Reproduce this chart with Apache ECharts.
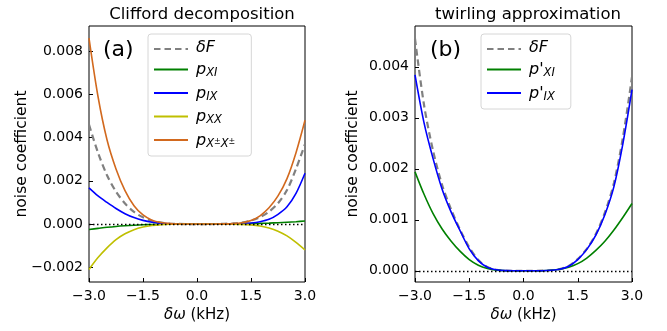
<!DOCTYPE html>
<html>
<head>
<meta charset="utf-8">
<script src="https://cdn.jsdelivr.net/npm/echarts@6/dist/echarts.min.js"></script>
<style>
  html, body { margin: 0; padding: 0; background: #fff; }
  #chart { width: 667px; height: 331px; }
</style>
</head>
<body>
<div id="chart"></div>
<script>
// detuning in kHz
const dw = [-3, -2.75, -2.5, -2.25, -2, -1.75, -1.5, -1.25, -1, -0.75, -0.5, -0.25, 0,
  0.25, 0.5, 0.75, 1, 1.25, 1.5, 1.75, 2, 2.25, 2.5, 2.75, 3]

// (a) Clifford decomposition, values in units of 1e-3
const dF_a = [4.6, 3.3, 2.26, 1.5, 0.95, 0.56, 0.31, 0.15, 0.063, 0.02, 0.004, 0, 0,
  0, 0.002, 0.01, 0.03, 0.07, 0.16, 0.32, 0.57, 0.96, 1.57, 2.55, 3.7]
const pXI = [-0.25, -0.2, -0.15, -0.11, -0.08, -0.055, -0.035, -0.02, -0.01, -0.004, -0.001, 0, 0,
  0, 0.001, 0.002, 0.005, 0.011, 0.02, 0.03, 0.045, 0.063, 0.085, 0.11, 0.14]
const pIX = [1.67, 1.3, 1.0, 0.72, 0.48, 0.3, 0.17, 0.08, 0.03, 0.008, 0.001, 0, 0,
  0, 0.001, 0.003, 0.007, 0.02, 0.05, 0.11, 0.22, 0.45, 0.8, 1.42, 2.35]
const pXX = [-2.1, -1.55, -1.1, -0.72, -0.45, -0.26, -0.14, -0.065, -0.025, -0.008, -0.002, 0, 0,
  0, 0, -0.001, -0.005, -0.015, -0.04, -0.09, -0.18, -0.33, -0.55, -0.85, -1.2]
const pXpm = [8.6, 5.9, 3.9, 2.55, 1.55, 0.85, 0.42, 0.18, 0.068, 0.019, 0.003, 0, 0,
  0, 0.001, 0.006, 0.02, 0.06, 0.16, 0.38, 0.75, 1.3, 2.1, 3.3, 4.8]

// (b) twirling approximation, values in units of 1e-3
const dF_b = [4.55, 3.25, 2.35, 1.68, 1.2, 0.8, 0.46, 0.21, 0.075, 0.02, 0.004, 0, 0,
  0, 0.002, 0.01, 0.032, 0.095, 0.23, 0.43, 0.72, 1.14, 1.72, 2.62, 3.8]
const pXI_tw = [1.94, 1.5, 1.12, 0.82, 0.58, 0.38, 0.22, 0.11, 0.045, 0.012, 0.002, 0, 0,
  0, 0.002, 0.01, 0.03, 0.07, 0.14, 0.25, 0.4, 0.58, 0.8, 1.05, 1.32]
const pIX_tw = [3.84, 2.9, 2.2, 1.6, 1.15, 0.78, 0.43, 0.2, 0.07, 0.02, 0.003, 0, 0,
  0, 0.002, 0.01, 0.03, 0.09, 0.22, 0.42, 0.7, 1.1, 1.65, 2.5, 3.55]

const yTicksA = [-2, 0, 2, 4, 6, 8]
const yTicksB = [0, 1, 2, 3, 4]

const FONT = 'DejaVu Sans'
const pairs = (ys) => dw.map((x, i) => [x, ys[i]])

const legendNames = {
  'dF_a': '{it|δF}',
  'pXI': '{it|p}{sub|XI}',
  'pIX': '{it|p}{sub|IX}',
  'pXX': '{it|p}{sub|XX}',
  'pXpm': '{it|p}{sub|X}{sup|±}{sub|X}{sup|±}',
  'dF_b': '{it|δF}',
  'pXI_tw': "{it|p'}{sub|XI}",
  'pIX_tw': "{it|p'}{sub|IX}",
}

const legendRich = {
  it: { fontFamily: FONT, fontStyle: 'italic', fontSize: 16, color: '#000', padding: [0, 0, 0, 3] },
  sub: { fontFamily: FONT, fontStyle: 'italic', fontSize: 11.5, color: '#000', padding: [7, 0, 0, 0] },
  sup: { fontFamily: FONT, fontSize: 8, color: '#000', padding: [3, 0, 0, 0] },
}

const legendBase = {
  orient: 'vertical',
  top: 34,
  itemWidth: 34,
  itemHeight: 14,
  itemGap: 6,
  padding: [6, 16, 6, 5],
  backgroundColor: '#fff',
  borderColor: '#d6d6d6',
  borderWidth: 1,
  borderRadius: 3,
  itemStyle: { opacity: 0 },
  formatter: (name) => legendNames[name],
  textStyle: { rich: legendRich, height: 18 },
}

const xAxisBase = (gridIndex) => ({
  gridIndex,
  type: 'value',
  min: -3,
  max: 3,
  interval: 1.5,
  name: '{it|δω} (kHz)',
  nameLocation: 'middle',
  nameGap: 23,
  nameTextStyle: {
    fontFamily: FONT, fontSize: 15, color: '#000',
    rich: { it: { fontFamily: FONT, fontStyle: 'italic', fontSize: 15, color: '#000' } },
  },
  axisLine: { show: false, onZero: false },
  axisTick: { show: true, inside: true, length: 4, lineStyle: { color: '#000' } },
  axisLabel: {
    fontFamily: FONT, fontSize: 14, color: '#000', margin: 7,
    formatter: (v) => v.toFixed(1).replace('-', '−'),
  },
  splitLine: { show: false },
})

const yAxisBase = (gridIndex, min, max, ticks, gap) => ({
  gridIndex,
  type: 'value',
  min, max,
  name: 'noise coefficient',
  nameLocation: 'middle',
  nameGap: gap,
  nameMoveOverlap: false,
  nameTextStyle: { fontFamily: FONT, fontSize: 15.5, color: '#000' },
  axisLine: { show: false, onZero: false },
  axisTick: { show: true, inside: true, length: 4, customValues: ticks, lineStyle: { color: '#000' } },
  axisLabel: {
    fontFamily: FONT, fontSize: 14, color: '#000', margin: 6,
    customValues: ticks,
    formatter: (v) => (v / 1000).toFixed(3).replace('-', '−'),
  },
  splitLine: { show: false },
})

const line = (name, ys, color, xi, extra) => Object.assign({
  type: 'line',
  name,
  xAxisIndex: xi,
  yAxisIndex: xi,
  data: pairs(ys),
  symbol: 'none',
  smooth: 0.3,
  lineStyle: { color, width: 1.6 },
  itemStyle: { color },
  z: 3,
}, extra || {})

const dashed = (name, ys, xi) => line(name, ys, '#808080', xi, {
  lineStyle: { color: '#808080', width: 2.2, type: [6.5, 4] },
  z: 2,
})

const zeroMark = {
  silent: true,
  symbol: 'none',
  label: { show: false },
  lineStyle: { color: '#000', type: [1.5, 2.5], width: 1.4 },
  data: [{ yAxis: 0 }],
}

const chart = echarts.init(document.getElementById('chart'))
chart.setOption({
  animation: false,
  backgroundColor: '#fff',
  title: [
    { text: 'Clifford decomposition', left: 197, top: 1, textAlign: 'center',
      textStyle: { fontFamily: FONT, fontSize: 16.5, fontWeight: 'normal', color: '#000' } },
    { text: 'twirling approximation', left: 523, top: 1, textAlign: 'center',
      textStyle: { fontFamily: FONT, fontSize: 16.5, fontWeight: 'normal', color: '#000' } },
    { text: '(a)', left: 98, top: 34,
      textStyle: { fontFamily: FONT, fontSize: 22, fontWeight: 'normal', color: '#000' } },
    { text: '(b)', left: 425, top: 34,
      textStyle: { fontFamily: FONT, fontSize: 22, fontWeight: 'normal', color: '#000' } },
  ],
  grid: [
    { left: 89, top: 26, width: 216, height: 256, show: true, borderColor: '#000', borderWidth: 1, backgroundColor: 'transparent' },
    { left: 415, top: 26, width: 217, height: 256, show: true, borderColor: '#000', borderWidth: 1, backgroundColor: 'transparent' },
  ],
  legend: [
    Object.assign({}, legendBase, { left: 148, data: ['dF_a', 'pXI', 'pIX', 'pXX', 'pXpm'] }),
    Object.assign({}, legendBase, { left: 481, data: ['dF_b', 'pXI_tw', 'pIX_tw'] }),
  ],
  xAxis: [xAxisBase(0), xAxisBase(1)],
  yAxis: [
    yAxisBase(0, -2.68, 9.16, yTicksA, 59),
    yAxisBase(1, -0.22, 4.8, yTicksB, 54),
  ],
  series: [
    dashed('dF_a', dF_a, 0),
    line('pXI', pXI, '#008000', 0, { markLine: zeroMark }),
    line('pIX', pIX, '#0000ff', 0),
    line('pXX', pXX, '#bfbf00', 0),
    line('pXpm', pXpm, '#d2691e', 0),
    dashed('dF_b', dF_b, 1),
    line('pXI_tw', pXI_tw, '#008000', 1, { markLine: zeroMark }),
    line('pIX_tw', pIX_tw, '#0000ff', 1),
  ],
})
</script>
</body>
</html>
